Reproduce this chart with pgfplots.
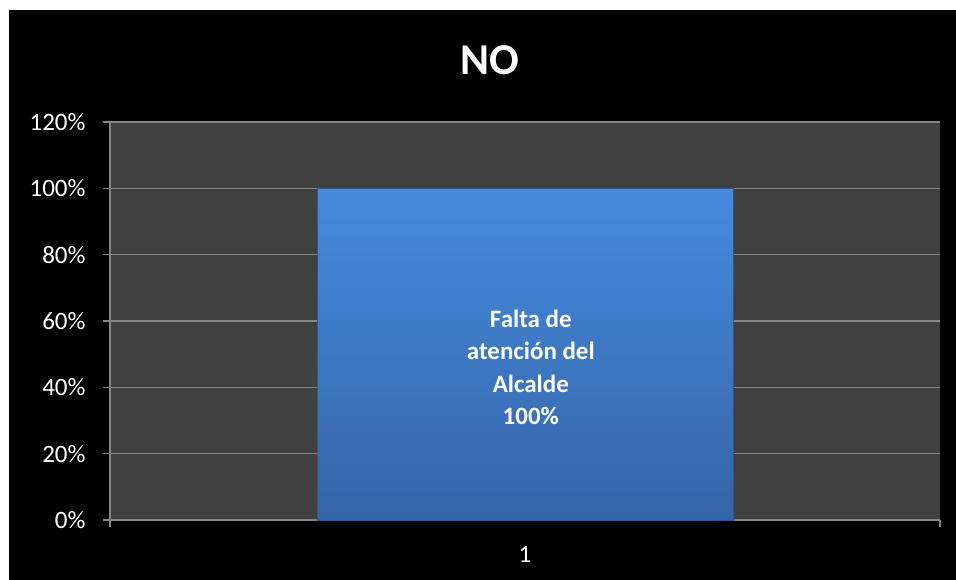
\documentclass[border=0pt]{standalone}
\usepackage{pgfplots}
\pgfplotsset{compat=1.18}
\usepackage{fontspec}
\setmainfont{Carlito}
\definecolor{plotbg}{RGB}{64,64,64}
\definecolor{gridc}{RGB}{134,134,134}
\definecolor{bartop}{RGB}{70,139,222}
\definecolor{barbot}{RGB}{53,100,168}
\definecolor{baredge}{RGB}{45,85,145}
\begin{document}
\begin{tikzpicture}[x=1pt,y=1pt]
\fill[white] (-110,-60) rectangle (846,520);
\fill[black] (-101,-60) rectangle (846,510);
\path[use as bounding box] (-110,-60) rectangle (846,520);
\node[anchor=base, text=white, font=\fontsize{44}{50}\selectfont\bfseries] at (380,445) {NO};
\begin{axis}[
  at={(0,0)}, anchor=south west,
  scale only axis, width=830pt, height=398pt,
  xmin=0.5, xmax=1.5, ymin=0, ymax=120,
  axis background/.style={fill=plotbg},
  axis x line*=bottom, axis y line*=left,
  axis line style={draw=gridc, line width=1.2pt, -},
  ytick={0,20,40,60,80,100,120},
  yticklabels={0\%,20\%,40\%,60\%,80\%,100\%,120\%},
  ymajorgrids, grid style={draw=gridc, line width=1.2pt},
  xtick={0.5,1.5}, xticklabels={},
  tick align=outside,
  major tick length=7pt,
  tick style={draw=gridc, line width=1.2pt},
  extra x ticks={1}, extra x tick labels={1},
  extra x tick style={grid=none, tick style={draw=none}},
  yticklabel style={font=\fontsize{25}{30}\selectfont, text=white, xshift=-14pt},
  xticklabel style={font=\fontsize{25}{30}\selectfont, text=white, yshift=-16pt},
  clip=false,
]
\addplot[ybar, bar width=416pt, draw=baredge, line width=0.8pt, top color=bartop, bottom color=barbot, bar shift=0pt] coordinates {(1,100)};
\node[align=center, text=white, font=\fontsize{25}{32.3}\selectfont\bfseries] at (axis cs:1.007,46) {Falta de\\atención del\\Alcalde\\100\%};
\end{axis}
\end{tikzpicture}
\end{document}
